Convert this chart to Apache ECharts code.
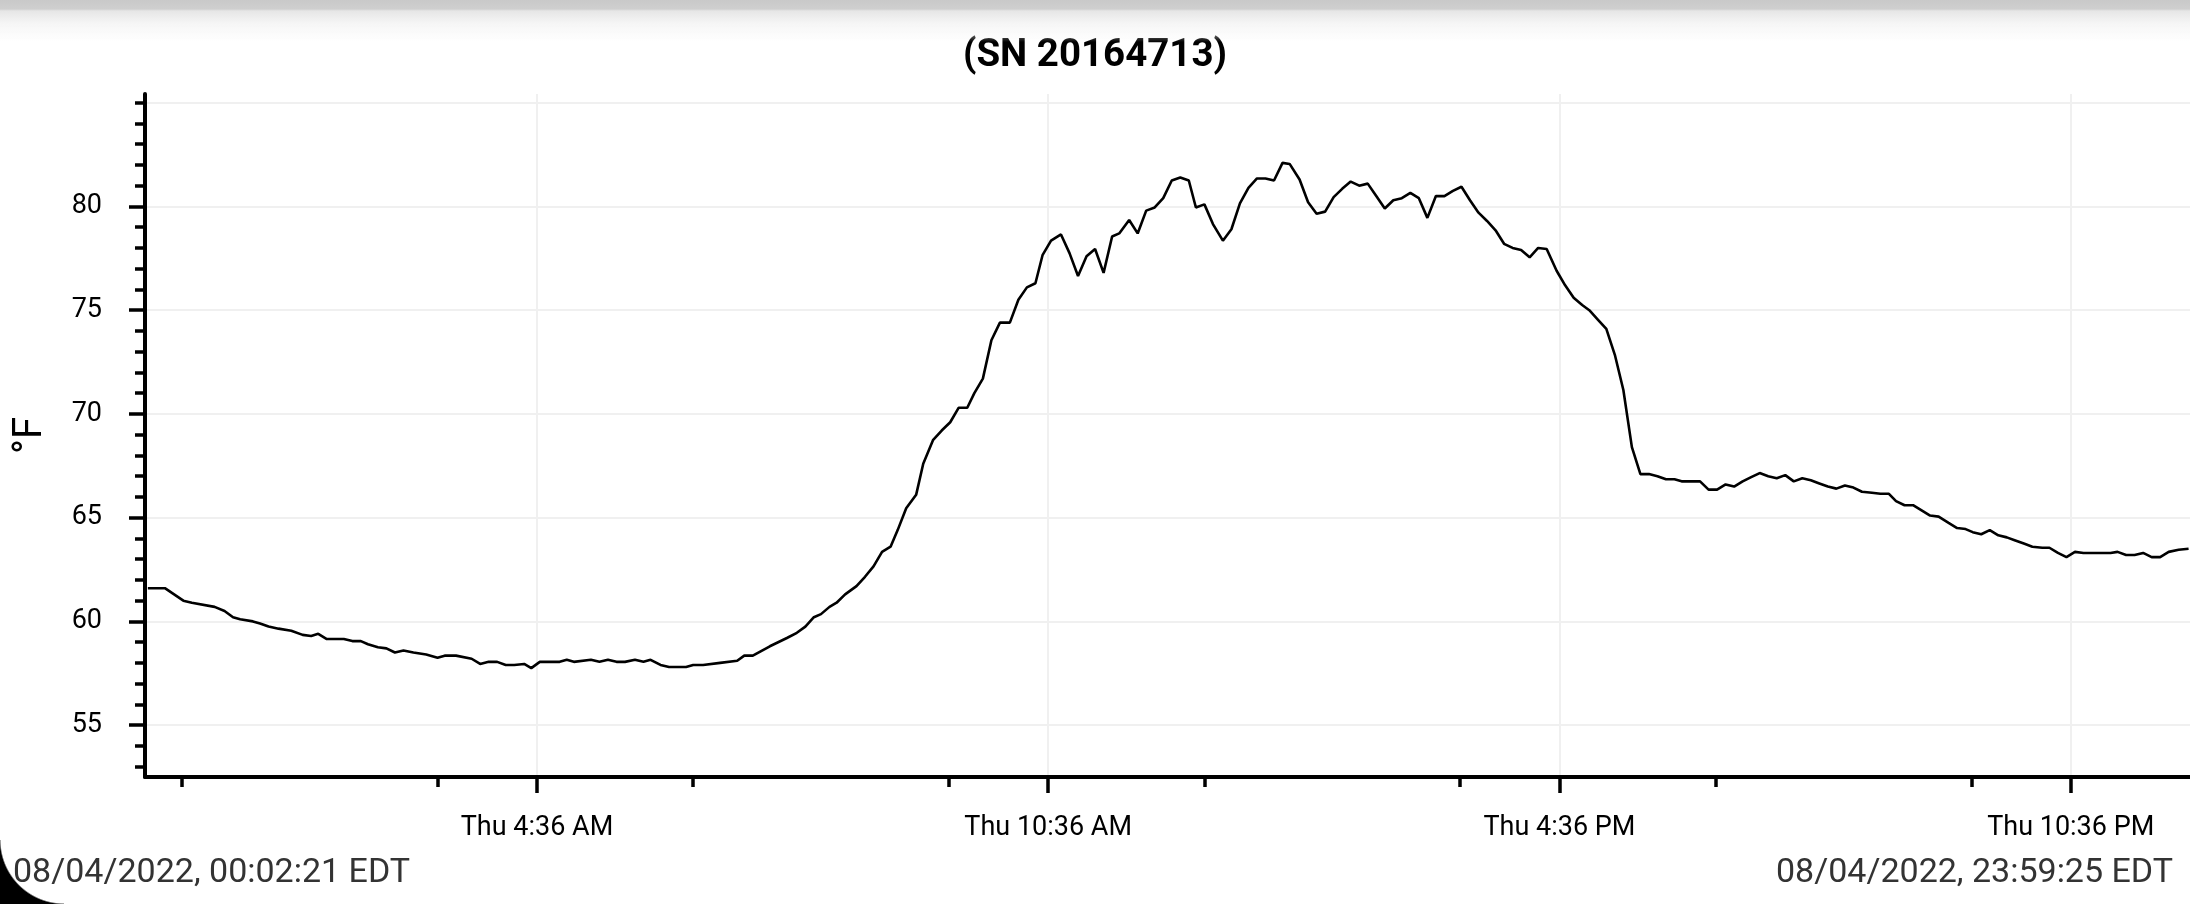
<!DOCTYPE html>
<html>
<head>
<meta charset="utf-8">
<script src="https://cdn.jsdelivr.net/npm/echarts@6/dist/echarts.min.js"></script>
<style>
  html, body { margin: 0; padding: 0; background: #fff; }
  #wrap { position: relative; width: 2190px; height: 904px; overflow: hidden; }
  #main { width: 2190px; height: 904px; }
  /* toolbar shadow at the top of the screenshot */
  #shade { position: absolute; left: 0; top: 0; width: 100%; height: 42px; pointer-events: none;
    background: linear-gradient(#c9c9c9 0px, #cfcfcf 9px, #e6e6e6 11px, #f6f6f6 24px, rgba(255,255,255,0) 42px); }
  /* rounded screen corner, bottom left */
  #corner { position: absolute; left: 0; bottom: 0; width: 64px; height: 64px; pointer-events: none;
    background: radial-gradient(circle at 64px 0px, rgba(0,0,0,0) 63px, #000 64.5px); }
</style>
</head>
<body>
<div id="wrap">
  <div id="main"></div>
  <div id="shade"></div>
  <div id="corner"></div>
</div>
<script>
// logger readings, 08/04/2022 (local time), degrees F
var times = [
  '00:02','00:14','00:27','00:33','00:49','00:56','01:02','01:07','01:16','01:21',
  '01:27','01:34','01:43','01:51','01:57','02:02','02:08','02:20','02:26','02:32',
  '02:37','02:44','02:50','02:56','03:02','03:09','03:18','03:26','03:31','03:39',
  '03:50','03:56','04:02','04:08','04:14','04:20','04:27','04:32','04:38','04:52',
  '04:57','05:02','05:14','05:20','05:26','05:32','05:38','05:45','05:51','05:56',
  '06:03','06:09','06:21','06:26','06:33','06:45','06:57','07:02','07:08','07:20',
  '07:32','07:39','07:45','07:51','07:56','08:02','08:07','08:13','08:21','08:27',
  '08:33','08:39','08:45','08:50','08:56','09:03','09:08','09:15','09:21','09:27',
  '09:33','09:39','09:44','09:50','09:56','10:02','10:09','10:15','10:21','10:27',
  '10:32','10:38','10:45','10:51','10:57','11:03','11:09','11:15','11:21','11:26',
  '11:33','11:39','11:45','11:51','11:57','12:03','12:09','12:15','12:20','12:26',
  '12:32','12:39','12:45','12:51','12:57','13:03','13:09','13:15','13:21','13:26',
  '13:33','13:39','13:45','13:51','13:57','14:03','14:09','14:15','14:21','14:27',
  '14:33','14:39','14:45','14:51','14:57','15:03','15:09','15:15','15:21','15:27',
  '15:33','15:39','15:45','15:51','15:57','16:03','16:09','16:15','16:21','16:27',
  '16:34','16:40','16:46','16:52','16:57','17:03','17:09','17:15','17:21','17:27',
  '17:33','17:39','17:45','17:51','17:57','18:02','18:15','18:21','18:27','18:33',
  '18:39','18:45','18:51','18:57','19:03','19:09','19:15','19:21','19:27','19:33',
  '19:39','19:45','19:51','19:57','20:03','20:09','20:16','20:22','20:28','20:33',
  '20:39','20:45','20:51','20:57','21:03','21:10','21:16','21:22','21:27','21:33',
  '21:39','21:45','21:51','21:57','22:03','22:09','22:16','22:21','22:27','22:33',
  '22:39','22:45','23:04','23:09','23:15','23:21','23:27','23:33','23:39','23:45',
  '23:52','23:59'
];
var tempF = [
  61.6, 61.6, 61.0, 60.9, 60.7, 60.5, 60.2, 60.1, 60.0, 59.9,
  59.75, 59.65, 59.55, 59.35, 59.3, 59.4, 59.15, 59.15, 59.05, 59.05,
  58.9, 58.75, 58.7, 58.5, 58.6, 58.5, 58.4, 58.25, 58.35, 58.35,
  58.2, 57.95, 58.05, 58.05, 57.9, 57.9, 57.95, 57.75, 58.05, 58.05,
  58.15, 58.05, 58.15, 58.05, 58.15, 58.05, 58.05, 58.15, 58.05, 58.15,
  57.9, 57.8, 57.8, 57.9, 57.9, 58.0, 58.1, 58.35, 58.35, 58.8,
  59.2, 59.45, 59.75, 60.2, 60.35, 60.7, 60.9, 61.3, 61.7, 62.15,
  62.65, 63.35, 63.6, 64.4, 65.45, 66.1, 67.6, 68.75, 69.2, 69.6,
  70.3, 70.3, 71.0, 71.7, 73.55, 74.4, 74.4, 75.5, 76.1, 76.3,
  77.65, 78.35, 78.65, 77.75, 76.65, 77.6, 77.95, 76.8, 78.55, 78.7,
  79.35, 78.7, 79.8, 79.95, 80.4, 81.25, 81.4, 81.25, 79.95, 80.1,
  79.15, 78.35, 78.9, 80.15, 80.9, 81.35, 81.35, 81.25, 82.1, 82.05,
  81.3, 80.2, 79.65, 79.75, 80.45, 80.85, 81.2, 81.0, 81.1, 80.5,
  79.9, 80.3, 80.4, 80.65, 80.4, 79.45, 80.5, 80.5, 80.75, 80.95,
  80.3, 79.7, 79.3, 78.85, 78.2, 78.0, 77.9, 77.55, 78.0, 77.95,
  76.9, 76.2, 75.6, 75.25, 75.0, 74.55, 74.1, 72.85, 71.15, 68.4,
  67.1, 67.1, 67.0, 66.85, 66.85, 66.75, 66.75, 66.35, 66.35, 66.6,
  66.5, 66.75, 66.95, 67.15, 67.0, 66.9, 67.05, 66.75, 66.9, 66.8,
  66.65, 66.5, 66.4, 66.55, 66.45, 66.25, 66.2, 66.15, 66.15, 65.8,
  65.6, 65.6, 65.35, 65.1, 65.05, 64.75, 64.5, 64.45, 64.3, 64.2,
  64.4, 64.15, 64.05, 63.9, 63.75, 63.6, 63.55, 63.55, 63.3, 63.1,
  63.35, 63.3, 63.3, 63.35, 63.2, 63.2, 63.3, 63.1, 63.1, 63.35,
  63.45, 63.5
];

// axis ticks and labels
var xMajorTimes = ['04:36', '10:36', '16:36', '22:36'];
var xTickLabels = ['Thu 4:36 AM', 'Thu 10:36 AM', 'Thu 4:36 PM', 'Thu 10:36 PM'];
var xMinorTimes = ['00:26', '03:26', '06:26', '09:26', '12:26', '15:26', '18:26', '21:26'];
var yMajor = [55, 60, 65, 70, 75, 80];
var yMinor = [53, 54, 56, 57, 58, 59, 61, 62, 63, 64, 66, 67, 68, 69,
              71, 72, 73, 74, 76, 77, 78, 79, 81, 82, 83, 84, 85];
var yMin = 52.5, yMax = 85.42;
var startText = '08/04/2022, 00:02:21 EDT';
var endText = '08/04/2022, 23:59:25 EDT';

// clock time -> hours since midnight
function hrs(hhmm) {
  var p = hhmm.split(':');
  return +p[0] + p[1] / 60;
}
var xMin = 0, xMax = 24;
var majorH = xMajorTimes.map(hrs);

var FONT = 'Roboto';
var chart = echarts.init(document.getElementById('main'));
chart.setOption({
  animation: false,
  backgroundColor: '#fff',
  title: {
    text: '(SN 20164713)',
    left: 'center',
    top: 32,
    textStyle: { fontFamily: FONT, fontSize: 38.5, fontWeight: 'bold', color: '#000' }
  },
  grid: { left: 145, right: 0, top: 94, bottom: 127, containLabel: false },
  xAxis: [
    { // labels, long ticks, vertical grid lines
      type: 'value', min: xMin, max: xMax, position: 'bottom',
      axisLine: { show: true, lineStyle: { color: '#000', width: 4 } },
      axisTick: { show: true, customValues: majorH, length: 16, lineStyle: { color: '#000', width: 3.5 } },
      axisLabel: {
        customValues: majorH, margin: 38, color: '#000', fontFamily: FONT, fontSize: 27,
        formatter: function (v) {
          for (var i = 0; i < majorH.length; i++) {
            if (Math.abs(majorH[i] - v) < 1e-6) return xTickLabels[i];
          }
          return '';
        }
      },
      splitLine: { show: true, lineStyle: { color: '#f0f0f0', width: 2 } }
    },
    { // short ticks
      type: 'value', min: xMin, max: xMax, position: 'bottom',
      axisLine: { show: false },
      axisTick: { show: true, customValues: xMinorTimes.map(hrs), length: 10, lineStyle: { color: '#000', width: 3.5 } },
      axisLabel: { show: false },
      splitLine: { show: false }
    }
  ],
  yAxis: [
    { // labels, long ticks
      type: 'value', min: yMin, max: yMax, position: 'left',
      name: '°F', nameLocation: 'middle', nameGap: 94,
      nameTextStyle: { fontFamily: FONT, fontSize: 40, color: '#000' },
      axisLine: { show: true, lineStyle: { color: '#000', width: 4 } },
      axisTick: { show: true, customValues: yMajor, length: 16, lineStyle: { color: '#000', width: 3.5 } },
      axisLabel: { customValues: yMajor, margin: 43, color: '#000', fontFamily: FONT, fontSize: 27 },
      splitLine: { show: false }
    },
    { // short ticks
      type: 'value', min: yMin, max: yMax, position: 'left',
      axisLine: { show: false },
      axisTick: { show: true, customValues: yMinor, length: 10, lineStyle: { color: '#000', width: 3.5 } },
      axisLabel: { show: false },
      splitLine: { show: false }
    },
    { // horizontal grid lines
      type: 'value', min: yMin, max: yMax, position: 'left',
      axisLine: { show: false }, axisTick: { show: false }, axisLabel: { show: false },
      splitLine: { show: true, showMinLine: false, showMaxLine: false, lineStyle: { color: '#f0f0f0', width: 2 } }
    }
  ],
  graphic: [
    { type: 'text', left: 13, top: 856, style: { text: startText, fontFamily: FONT, fontSize: 34, fill: '#333' } },
    { type: 'text', right: 17, top: 856, style: { text: endText, fontFamily: FONT, fontSize: 34, fill: '#333' } }
  ],
  series: [{
    type: 'line',
    xAxisIndex: 0,
    yAxisIndex: 0,
    showSymbol: false,
    symbol: 'none',
    lineStyle: { color: '#000', width: 2.6 },
    data: times.map(function (t, i) { return [hrs(t), tempF[i]]; })
  }]
});
</script>
</body>
</html>
